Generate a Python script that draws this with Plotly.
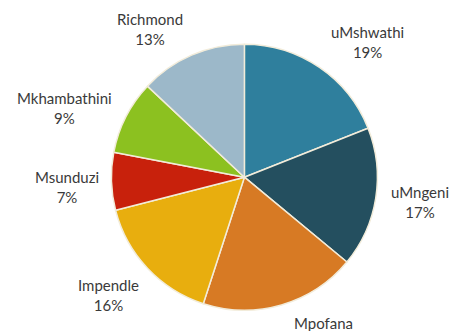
import plotly.graph_objects as go

labels = ["uMshwathi", "uMngeni", "Mpofana", "Impendle", "Msunduzi", "Mkhambathini", "Richmond"]
values = [19, 17, 19, 16, 7, 9, 13]
colors = ["#2F7F9D", "#244F5F", "#D77A24", "#E8AE0E", "#C8210C", "#8CC120", "#9CB8C9"]

# label block centres (pixels from top-left of the 456x331 canvas)
W, H = 456, 331
label_pos = [(367, 42), (420, 202), (323, 333), (108, 295), (67, 187), (64, 108), (150, 29)]

fig = go.Figure(go.Pie(
    labels=labels,
    values=values,
    sort=False,
    direction="clockwise",
    rotation=0,
    marker=dict(colors=colors, line=dict(color="#F2ECDA", width=1.5)),
    textinfo="none",
    domain=dict(x=[0.2443, 0.8276], y=[0.0628, 0.8665]),
    showlegend=False,
    hoverinfo="label+percent",
))

total = sum(values)
for lab, val, (px, py) in zip(labels, values, label_pos):
    fig.add_annotation(
        x=px / W, y=1 - py / H, xref="paper", yref="paper",
        text=f"{lab}<br>{round(100 * val / total)}%",
        showarrow=False, xanchor="center", yanchor="middle", align="center",
        font=dict(family="Lato, Open Sans, sans-serif", size=15, color="#3A3A3A"),
    )

fig.update_layout(
    width=W, height=H,
    margin=dict(l=0, r=0, t=0, b=0),
    paper_bgcolor="white",
    plot_bgcolor="white",
)
fig.write_html("out.html")
